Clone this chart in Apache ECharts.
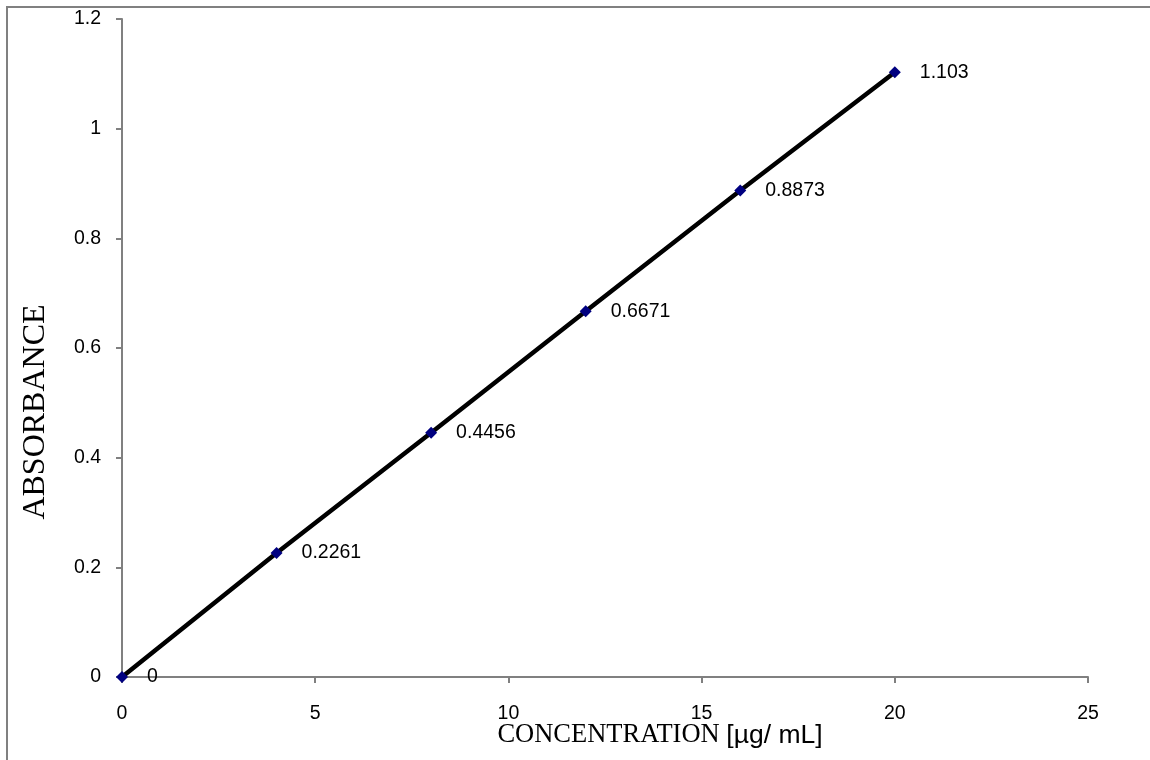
<!DOCTYPE html>
<html>
<head>
<meta charset="utf-8">
<script src="https://cdn.jsdelivr.net/npm/echarts@6/dist/echarts.min.js"></script>
<style>
  html, body { margin: 0; padding: 0; background: #fff; }
  #chart { width: 1150px; height: 760px; }
</style>
</head>
<body>
<div id="chart"></div>
<script>
// Calibration standard: absorbance against concentration
const concentration = [0, 4, 8, 12, 16, 20];
const absorbance = [0, 0.2261, 0.4456, 0.6671, 0.8873, 1.103];
const yTicks = [0, 0.2, 0.4, 0.6, 0.8, 1, 1.2];

const points = concentration.map((c, i) => [c, absorbance[i]]);
const sans = '"Liberation Sans", Arial, sans-serif';
const serif = '"Liberation Serif", "Times New Roman", serif';

const chart = echarts.init(document.getElementById('chart'), null, { renderer: 'canvas' });
chart.setOption({
  animation: false,
  backgroundColor: '#fff',
  graphic: [{
    type: 'rect',
    shape: { x: 7, y: 7, width: 1160, height: 780 },
    style: { fill: 'none', stroke: '#808080', lineWidth: 2 },
    silent: true
  }],
  grid: { left: 122, right: 62, top: 19, bottom: 83, containLabel: false },
  xAxis: {
    type: 'value', min: 0, max: 25, interval: 5,
    axisLine: { lineStyle: { color: '#808080', width: 2 } },
    axisTick: { show: true, length: 6, lineStyle: { color: '#808080', width: 2 } },
    splitLine: { show: false },
    axisLabel: { color: '#000', fontFamily: sans, fontSize: 19.5, margin: 27 },
    name: '{s|CONCENTRATION }{a|[µg/ mL]}',
    nameLocation: 'middle', nameGap: 45, nameMoveOverlap: false,
    nameTextStyle: {
      padding: [0, 0, 0, 110],
      rich: {
        s: { fontFamily: serif, fontSize: 26.5, color: '#000' },
        a: { fontFamily: sans, fontSize: 26.5, color: '#000' }
      }
    }
  },
  yAxis: {
    type: 'value', min: 0, max: 1.2, interval: 0.2,
    axisLine: { show: true, lineStyle: { color: '#808080', width: 2 } },
    axisTick: { show: true, length: 6, lineStyle: { color: '#808080', width: 2 } },
    splitLine: { show: false },
    axisLabel: {
      color: '#000', fontFamily: sans, fontSize: 19.5, margin: 21,
      formatter: v => String(Math.round(v * 10) / 10)
    },
    name: 'ABSORBANCE',
    nameLocation: 'middle', nameGap: 70, nameMoveOverlap: false,
    nameTextStyle: { fontFamily: serif, fontSize: 32, color: '#000', padding: [0, 128, 0, 0] }
  },
  series: [{
    type: 'line',
    data: points,
    lineStyle: { color: '#000', width: 4.5 },
    symbol: 'diamond', symbolSize: 12, showAllSymbol: true,
    itemStyle: { color: '#000080' },
    z: 3,
    label: {
      show: true, position: 'right', distance: 19,
      color: '#000', fontFamily: sans, fontSize: 19.5,
      formatter: p => String(p.value[1])
    }
  }]
});
</script>
</body>
</html>
